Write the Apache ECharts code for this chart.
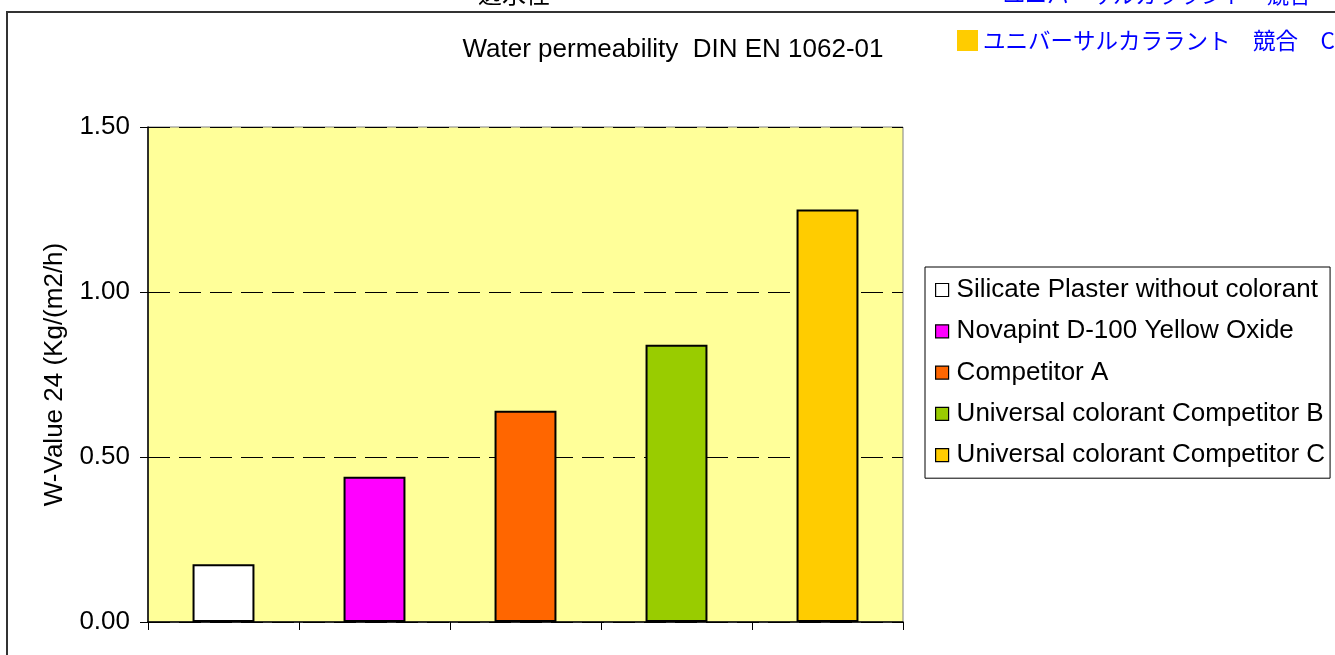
<!DOCTYPE html>
<html>
<head>
<meta charset="utf-8">
<script src="https://cdn.jsdelivr.net/npm/echarts@6/dist/echarts.min.js"></script>
<style>
html,body{margin:0;padding:0;background:#fff;}
#chart{width:1335px;height:655px;}
</style>
</head>
<body>
<div id="chart"></div>
<script>
var categories = [
  'Silicate Plaster without colorant',
  'Novapint D-100 Yellow Oxide',
  'Competitor A',
  'Universal colorant Competitor B',
  'Universal colorant Competitor C'
];
var values = [0.175, 0.44, 0.64, 0.84, 1.25];
var barColors = ['#FFFFFF', '#FF00FF', '#FF6600', '#99CC00', '#FFCC00'];
var yTicks = { min: 0, max: 1.5, interval: 0.5 };
var titleText = 'Water permeability  DIN EN 1062-01';
var yAxisName = 'W-Value 24 (Kg/(m2/h)';
var noteText = 'ユニバーサルカララント\u3000競合\u3000C';
var noteTextTop = 'ユニバーサルカララント\u3000競合\u3000B';
var headText = '透水性';

var FONT = 'Liberation Sans, Arial, sans-serif';

var series = categories.map(function (name, i) {
  var d = categories.map(function (c, j) { return j === i ? values[i] : '-'; });
  return {
    name: name,
    type: 'bar',
    stack: 'all',
    barWidth: '41%',
    data: d,
    itemStyle: { color: barColors[i], borderColor: '#000', borderWidth: 2 },
    emphasis: { disabled: true }
  };
});

var chart = echarts.init(document.getElementById('chart'));
chart.setOption({
  animation: false,
  backgroundColor: '#fff',
  grid: {
    left: 148, right: 432, top: 127, bottom: 33,
    show: true, backgroundColor: '#FFFF99', borderColor: '#808080', borderWidth: 1
  },
  legend: {
    orient: 'vertical',
    left: 925, top: 267,
    padding: [10, 5, 10, 10],
    itemWidth: 13, itemHeight: 13,
    itemGap: 15.3,
    borderColor: '#000', borderWidth: 1,
    icon: 'rect',
    data: categories,
    itemStyle: { borderColor: '#000', borderWidth: 1.2 },
    textStyle: { fontFamily: FONT, fontSize: 26, color: '#000', lineHeight: 26, padding: [0, 0, 0, 3] },
    selectedMode: false
  },
  xAxis: {
    type: 'category',
    data: categories,
    axisLine: { lineStyle: { color: '#000', width: 1.5 } },
    axisTick: { show: true, interval: 0, length: 8, lineStyle: { color: '#000' } },
    axisLabel: { show: false, interval: 0 },
    splitLine: { show: false }
  },
  yAxis: {
    type: 'value',
    min: yTicks.min, max: yTicks.max, interval: yTicks.interval,
    name: yAxisName,
    nameLocation: 'middle',
    nameGap: 80,
    nameTextStyle: { fontFamily: FONT, fontSize: 26, color: '#000' },
    axisLine: { show: true, lineStyle: { color: '#000', width: 1.5 } },
    axisTick: { show: true, length: 8, lineStyle: { color: '#000' } },
    axisLabel: {
      margin: 18, fontFamily: FONT, fontSize: 26, color: '#000',
      formatter: function (v) { return v.toFixed(2); }
    },
    splitLine: { show: true, lineStyle: { color: '#000', type: [22, 9], width: 1 } }
  },
  graphic: [
    { type: 'rect', z: -1, silent: true,
      shape: { x: 7, y: 12, width: 1400, height: 700 },
      style: { fill: 'none', stroke: '#333', lineWidth: 2 } },
    { type: 'text', silent: true,
      style: { text: titleText, x: 673, y: 50, textAlign: 'center', textVerticalAlign: 'middle',
               font: '26px ' + FONT, fill: '#000' } },
    { type: 'rect', silent: true, shape: { x: 957, y: 30, width: 21, height: 21 },
      style: { fill: '#FFCC00' } },
    { type: 'text', silent: true,
      style: { text: noteText, x: 983, y: 40, textAlign: 'left', textVerticalAlign: 'middle',
               font: '22.5px "Noto Sans CJK JP"', fill: '#0000FF' } },
    { type: 'text', silent: true,
      style: { text: noteTextTop, x: 1003, y: 6, textAlign: 'left', textVerticalAlign: 'bottom',
               font: '22px "Noto Sans CJK JP"', fill: '#0000FF' } },
    { type: 'text', silent: true,
      style: { text: headText, x: 478, y: 6, textAlign: 'left', textVerticalAlign: 'bottom',
               font: '24px "Noto Sans CJK JP"', fill: '#000' } }
  ],
  series: series
});
</script>
</body>
</html>
